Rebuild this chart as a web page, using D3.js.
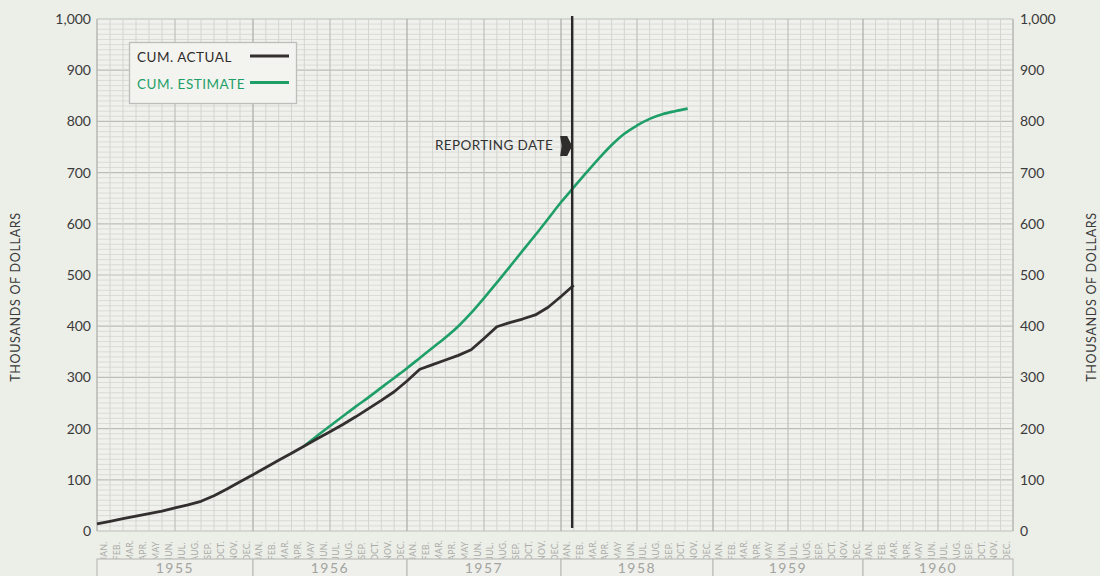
<!DOCTYPE html>
<html>
<head>
<meta charset="utf-8">
<script src="https://cdn.jsdelivr.net/npm/d3@7"></script>
<style>
  html, body { margin: 0; padding: 0; background: #eceee8; }
  svg { display: block; }
  text { font-family: Lato, "Open Sans", sans-serif; }
</style>
</head>
<body>
<svg id="chart" width="1100" height="576"></svg>
<script>
// ---- data ----
const years = ["1955", "1956", "1957", "1958", "1959", "1960"];
const monthLabels = ["JAN.", "FEB.", "MAR.", "APR.", "MAY", "JUN.", "JUL.", "AUG.", "SEP.", "OCT.", "NOV.", "DEC."];
const yTicks = [0, 100, 200, 300, 400, 500, 600, 700, 800, 900, 1000];
// cumulative actual, thousands of dollars, at month boundaries from Jan 1955 (index 0)
const actualValues = [14, 19, 24, 29, 34, 39, 45, 51, 58, 69, 82, 96, 110, 124, 138, 152, 166, 180, 194, 208,
  223, 239, 255, 272, 293, 316, 325, 334, 343, 354, 376, 399, 407, 414, 422, 437, 458, 480];
// cumulative estimate, starts at month index 16
const estimateStart = 16;
const estimateValues = [166, 186, 205, 224, 243, 261, 280, 299, 318, 338, 358, 378, 400, 426, 455, 485, 516, 547,
  578, 610, 642, 671, 700, 728, 754, 776, 792, 805, 814, 820, 825];
const reportingMonth = 37;
const seriesNames = ["CUM.  ACTUAL", "CUM.  ESTIMATE"];
const axisTitle = "THOUSANDS OF DOLLARS";
const reportingLabel = "REPORTING  DATE";

// ---- layout ----
const svg = d3.select("#chart");
const pL = 97, pR = 1013, pT = 19, pB = 531;
const x = d3.scaleLinear()
  .domain([0, 12, 24, 36, 48, 60, 72])
  .range([97, 253, 407, 561, 713, 863, 1013]);
const y = d3.scaleLinear().domain([0, 1000]).range([pB, pT]);

const black = "#332f2f", green = "#1f9f68";

// plot background
svg.append("rect").attr("x", pL).attr("y", pT).attr("width", pR - pL).attr("height", pB - pT)
  .attr("fill", "#f0f1ed");

// horizontal grid
const g = svg.append("g");
g.selectAll("line.h").data(d3.range(0, 1001, 10)).join("line")
  .attr("x1", pL).attr("x2", pR)
  .attr("y1", d => y(d)).attr("y2", d => y(d))
  .attr("stroke", d => d % 100 === 0 ? "#bcbdb8" : "#d4d5d0")
  .attr("stroke-width", d => d % 100 === 0 ? 1.2 : 0.8);
// vertical grid
g.selectAll("line.v").data(d3.range(0, 73)).join("line")
  .attr("y1", pT).attr("y2", pB)
  .attr("x1", d => x(d)).attr("x2", d => x(d))
  .attr("stroke", d => d % 12 === 0 ? "#b3b4af" : (d % 6 === 0 ? "#bfc0bb" : "#d0d1cc"))
  .attr("stroke-width", d => d % 12 === 0 ? 1.4 : (d % 6 === 0 ? 1.2 : 0.9));

// axes
const fmt = d3.format(",");
const yl = svg.append("g").attr("transform", `translate(${pL - 6},0)`)
  .call(d3.axisLeft(y).tickValues(yTicks).tickFormat(fmt).tickSize(0).tickPadding(0));
const yr = svg.append("g").attr("transform", `translate(${pR + 7},0)`)
  .call(d3.axisRight(y).tickValues(yTicks).tickFormat(fmt).tickSize(0).tickPadding(0));
[yl, yr].forEach(a => {
  a.select(".domain").remove();
  a.selectAll("text").attr("font-size", 14).attr("fill", "#3a3a3a")
    .attr("font-family", "Lato, sans-serif");
});

// axis titles
svg.append("text").attr("transform", `translate(20,${(pT + pB) / 2 + 22}) rotate(-90)`)
  .attr("text-anchor", "middle").attr("font-size", 12.5).attr("fill", "#3a3a3a")
  .attr("letter-spacing", 0.7).text(axisTitle);
svg.append("text").attr("transform", `translate(1096,${(pT + pB) / 2 + 22}) rotate(-90)`)
  .attr("text-anchor", "middle").attr("font-size", 12.5).attr("fill", "#3a3a3a")
  .attr("letter-spacing", 0.7).text(axisTitle);

// month labels
const months = d3.range(0, 72);
svg.append("g").selectAll("text").data(months).join("text")
  .attr("transform", d => `translate(${(x(d) + x(d + 1)) / 2 + 3},551) rotate(-90)`)
  .attr("text-anchor", "middle").attr("font-size", 8.5).attr("fill", "#aaaba7")
  .attr("letter-spacing", 0.3)
  .text(d => monthLabels[d % 12]);

// year boxes
const yb = svg.append("g");
yb.selectAll("rect").data(years).join("rect")
  .attr("x", (d, i) => x(i * 12)).attr("y", 559)
  .attr("width", (d, i) => x(i * 12 + 12) - x(i * 12)).attr("height", 30)
  .attr("fill", "#eff0eb").attr("stroke", "#bdbeb9").attr("stroke-width", 1.2);
yb.selectAll("text").data(years).join("text")
  .attr("x", (d, i) => (x(i * 12) + x(i * 12 + 12)) / 2).attr("y", 573)
  .attr("text-anchor", "middle").attr("font-size", 14).attr("fill", "#a3a4a0")
  .attr("letter-spacing", 1.5).text(d => d);

// lines
const actualData = actualValues.map((v, i) => ({ m: i, v }));
const estimateData = estimateValues.map((v, i) => ({ m: estimateStart + i, v }));
const lineLin = d3.line().x(d => x(d.m)).y(d => y(d.v));
const lineSmooth = d3.line().x(d => x(d.m)).y(d => y(d.v)).curve(d3.curveMonotoneX);

svg.append("path").datum(estimateData).attr("d", lineSmooth)
  .attr("fill", "none").attr("stroke", green).attr("stroke-width", 2.6);
svg.append("path").datum(actualData).attr("d", lineLin)
  .attr("fill", "none").attr("stroke", black).attr("stroke-width", 2.8).attr("stroke-linejoin", "round");

// reporting date line
const rx = x(reportingMonth) - 1.5;
svg.append("line").attr("x1", rx).attr("x2", rx).attr("y1", 16).attr("y2", 528)
  .attr("stroke", "#2a2828").attr("stroke-width", 2.4);
svg.append("path")
  .attr("d", `M${rx - 12},136 L${rx - 5},136 L${rx},146 L${rx - 5},156 L${rx - 12},156 L${rx - 10.5},146 Z`)
  .attr("fill", "#2f2c2c");
svg.append("text").attr("x", rx - 19).attr("y", 150).attr("text-anchor", "end")
  .attr("font-size", 13.5).attr("fill", "#333").attr("letter-spacing", 0.4).text(reportingLabel);

// legend
const lg = svg.append("g");
lg.append("rect").attr("x", 129.5).attr("y", 42.5).attr("width", 167).attr("height", 61)
  .attr("fill", "#f3f4f0").attr("stroke", "#bdbeb9").attr("stroke-width", 1.3);
lg.append("text").attr("x", 137).attr("y", 61.5).attr("font-size", 13.5).attr("fill", "#2f2c2c")
  .attr("letter-spacing", 0.5).text(seriesNames[0]);
lg.append("line").attr("x1", 250).attr("x2", 289).attr("y1", 56).attr("y2", 56)
  .attr("stroke", black).attr("stroke-width", 2.8);
lg.append("text").attr("x", 137).attr("y", 89).attr("font-size", 13.5).attr("fill", green)
  .attr("letter-spacing", 0.5).text(seriesNames[1]);
lg.append("line").attr("x1", 250).attr("x2", 289).attr("y1", 82.5).attr("y2", 82.5)
  .attr("stroke", green).attr("stroke-width", 2.8);
</script>
</body>
</html>
